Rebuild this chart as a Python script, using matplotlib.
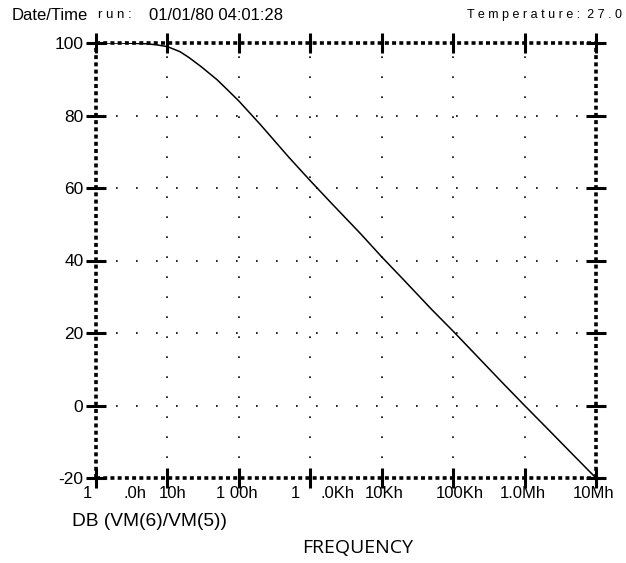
import matplotlib
matplotlib.use("Agg")
import matplotlib.pyplot as plt
import numpy as np

# Data
freq_hz = [1, 2, 3, 5, 7, 10, 15, 20, 30, 50, 70, 100, 200, 500, 1e3, 2e3, 5e3,
           1e4, 2e4, 5e4, 1e5, 2e5, 5e5, 1e6, 2e6, 5e6, 1e7]
gain_db = [100, 100, 99.95, 99.8, 99.5, 99.0, 97.6, 96.0, 93.4, 89.8, 87.0, 84.0,
           77.5, 68.5, 62.0, 55.7, 47.5, 41.0, 34.8, 26.5, 20.5, 14.3, 6.1, 0.0,
           -6.0, -14.0, -20.0]

y_ticks = [-20, 0, 20, 40, 60, 80, 100]
x_grid = [1, 10, 100, 1e3, 1e4, 1e5, 1e6, 1e7]

# tick-label fragments as they appear on the chart (text, frequency position)
x_label_text = ["1", ".0h", "10h", "1 00h", "1", ".0Kh", "10Kh", "100Kh", "1.0Mh", "10Mh"]
x_label_pos = [0.75, 3.5, 12, 94, 610, 2400, 11000, 126000, 950000, 9.1e6]

W, H = 626, 563
fig = plt.figure(figsize=(W / 100, H / 100), dpi=100)
ax = fig.add_axes([96 / W, 1 - 478 / H, (596 - 96) / W, (478 - 43) / H])

ax.set_xscale("log")
ax.set_xlim(1, 1e7)
ax.set_ylim(-20, 100)

# grid (sparse dots)
for xv in x_grid[1:-1]:
    ax.axvline(xv, color="black", lw=1.2, ls=(0, (1, 11)), zorder=1)
for yv in y_ticks[1:-1]:
    ax.axhline(yv, color="black", lw=1.2, ls=(0, (1, 11)), zorder=1)

ax.plot(freq_hz, gain_db, color="black", lw=1.1, zorder=3)

# dotted heavy frame
for s in ax.spines.values():
    s.set_linestyle((0, (1.1, 0.9)))
    s.set_linewidth(2.6)
    s.set_capstyle("butt")

ax.set_yticks(y_ticks)
ax.set_yticklabels([str(v) for v in y_ticks], fontsize=12.5, family="Liberation Sans")
ax.set_xticks(x_grid)
ax.set_xticklabels([])
ax.minorticks_off()
ax.tick_params(axis="both", which="major", direction="inout", length=14, width=2.2,
               top=True, right=True, pad=2)

for txt, pos in zip(x_label_text, x_label_pos):
    ax.text(pos, -0.018, txt, transform=ax.get_xaxis_transform(), ha="center", va="top",
            fontsize=12, family="Liberation Sans")

fig.text(12 / W, 1 - 15 / H, "Date/Time", fontsize=12, family="Liberation Sans", va="center")
fig.text(98 / W, 1 - 15 / H, "r u n :", fontsize=9.5, family="Liberation Sans", va="center")
fig.text(149 / W, 1 - 15 / H, "01/01/80 04:01:28", fontsize=12, family="Liberation Sans", va="center")
fig.text(622 / W, 1 - 15 / H, "T e m p e r a t u r e :  2 7 . 0", fontsize=9,
         family="Liberation Sans", va="center", ha="right")

fig.text(72 / W, 1 - 522 / H, "DB (VM(6)/VM(5))", fontsize=13.8, family="Liberation Sans",
         va="center")
fig.text(358 / W, 1 - 548 / H, "FREQUENCY", fontsize=14, family="Open Sans",
         va="center", ha="center")

fig.savefig("out.png", dpi=100, facecolor="white")
